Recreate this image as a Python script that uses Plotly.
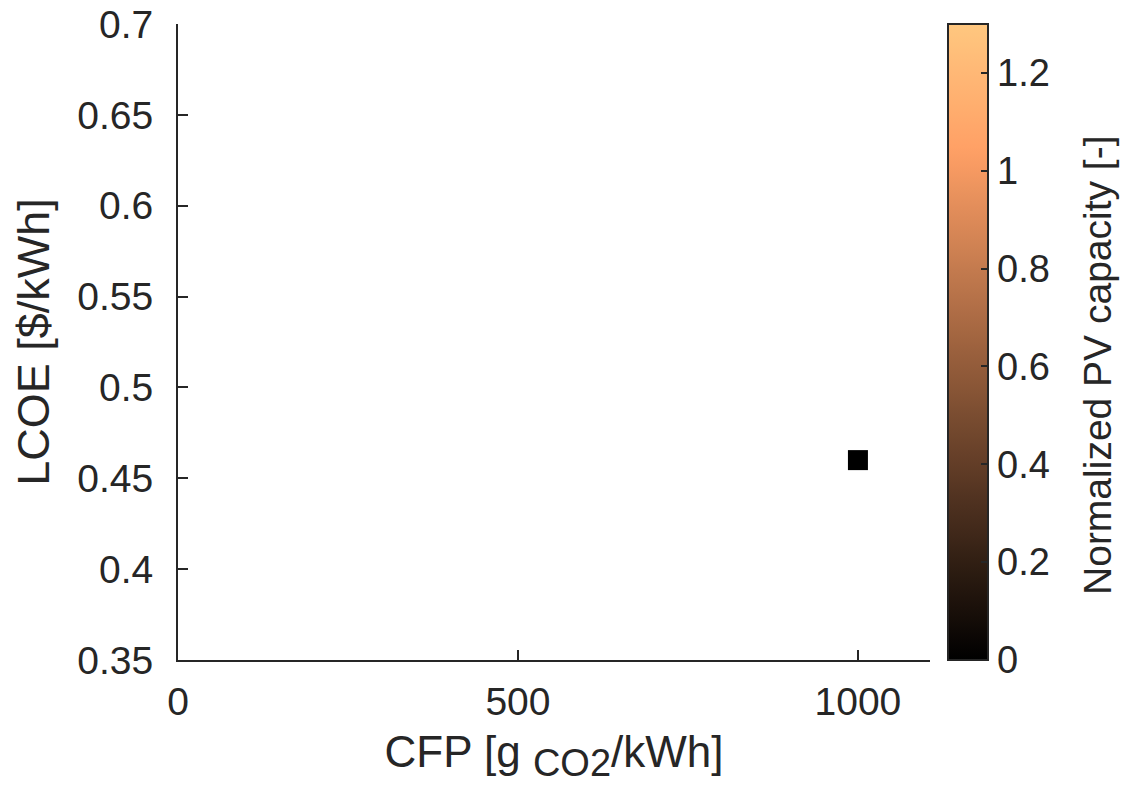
import plotly.graph_objects as go

# Data
cfp = [1000]
lcoe = [0.46]
pv_capacity = [0.0]

x_ticks = [0, 500, 1000]
y_ticks = [0.35, 0.4, 0.45, 0.5, 0.55, 0.6, 0.65, 0.7]
y_tick_labels = ["0.35", "0.4", "0.45", "0.5", "0.55", "0.6", "0.65", "0.7"]
cb_ticks = [0, 0.2, 0.4, 0.6, 0.8, 1, 1.2]
cb_tick_labels = ["0", "0.2", "0.4", "0.6", "0.8", "1", "1.2"]
cb_title = "Normalized PV capacity [-]"

# MATLAB copper colormap
def copper(t):
    r = min(1.0, 1.25 * t)
    g = 0.7812 * t
    b = 0.4975 * t
    return "rgb(%d,%d,%d)" % (round(r * 255), round(g * 255), round(b * 255))

n = 32
copper_scale = [[i / (n - 1), copper(i / (n - 1))] for i in range(n)]

axcol = "#262626"
font_family = "Liberation Sans, Arial, sans-serif"

fig = go.Figure()
fig.add_trace(go.Scatter(
    x=cfp, y=lcoe, mode="markers",
    marker=dict(
        symbol="square", size=20, color=pv_capacity,
        colorscale=copper_scale, cmin=0, cmax=1.3,
        line=dict(width=0),
        showscale=True,
        colorbar=dict(
            x=1.024, xanchor="left", xpad=0,
            y=0.5, yanchor="middle", ypad=0,
            lenmode="fraction", len=1,
            thicknessmode="pixels", thickness=40,
            outlinewidth=2, outlinecolor=axcol,
            ticks="inside", ticklen=8, tickwidth=2, tickcolor=axcol,
            tickvals=cb_ticks, ticktext=cb_tick_labels,
            tickprefix="\u2009",
            tickfont=dict(size=38, color=axcol, family=font_family),
        ),
    ),
    showlegend=False,
))

fig.add_annotation(
    text=cb_title, textangle=-90, showarrow=False,
    xref="paper", yref="paper", x=1.222, y=0.4638,
    xanchor="center", yanchor="middle",
    font=dict(size=39, color=axcol, family=font_family),
)

fig.update_layout(
    width=1133, height=797,
    margin=dict(l=178, r=203, t=24, b=137),
    plot_bgcolor="white", paper_bgcolor="white",
    font=dict(family=font_family, color=axcol),
    xaxis=dict(
        range=[0, 1106], tickvals=x_ticks,
        showline=True, linewidth=2, linecolor=axcol,
        ticks="inside", ticklen=10, tickwidth=2, tickcolor=axcol,
        showgrid=False, zeroline=False, mirror=False,
        tickfont=dict(size=39, color=axcol),
        ticklabelstandoff=6,
        automargin=False,
        title=dict(
            text='CFP [g <sub><span style="font-size:38px">CO2</span></sub>/kWh]',
            font=dict(size=44, color=axcol), standoff=14),
    ),
    yaxis=dict(
        range=[0.35, 0.7], tickvals=y_ticks, ticktext=y_tick_labels,
        showline=True, linewidth=2, linecolor=axcol,
        ticks="inside", ticklen=10, tickwidth=2, tickcolor=axcol,
        showgrid=False, zeroline=False, mirror=False,
        tickfont=dict(size=39, color=axcol),
        ticklabelstandoff=15,
        automargin=False,
        title=dict(text="LCOE [$/kWh]", font=dict(size=45, color=axcol), standoff=14),
    ),
)

fig.write_html("out.html")
